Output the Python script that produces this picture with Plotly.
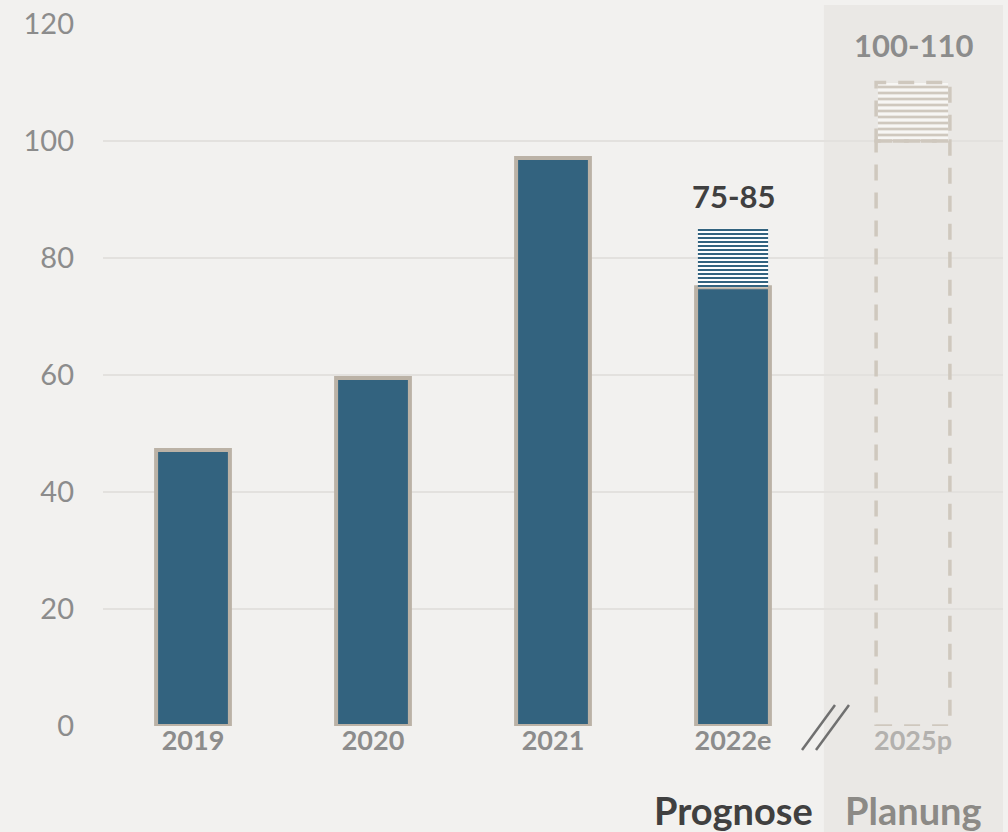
import plotly.graph_objects as go

# ---- data ----
categories = ["2019", "2020", "2021", "2022e", "2025p"]
actual_values = [47.2, 59.5, 97.1, 75, None]
forecast_low = 75
forecast_high = 85
plan_low = 100
plan_high = 110
y_ticks = [0, 20, 40, 60, 80, 100, 120]
section_labels = ["Prognose", "Planung"]

BG = "#f2f1ef"
SHADE = "#eae8e5"
BAR = "#33637f"
BORDER = "#bbb2a6"
PLAN = "#cfc8be"
FONT = "Lato"
BW = 0.41

n = len(categories)
i22 = categories.index("2022e")
i25 = categories.index("2025p")

fig = go.Figure()

fig.add_trace(go.Bar(
    x=categories, y=actual_values, width=BW,
    marker=dict(color=BAR, line=dict(color=BORDER, width=4)),
    hoverinfo="skip", showlegend=False, cliponaxis=False,
))
fig.add_trace(go.Bar(
    x=[categories[i22]], y=[forecast_high - forecast_low], base=[forecast_low], width=BW - 0.02,
    marker=dict(color=BAR, line=dict(width=0),
                pattern=dict(shape="-", size=4, solidity=0.5, fgcolor=BAR, bgcolor="white",
                             fillmode="replace")),
    hoverinfo="skip", showlegend=False,
))
fig.add_trace(go.Bar(
    x=[categories[i25]], y=[plan_high - plan_low], base=[plan_low], width=BW - 0.02,
    marker=dict(color=PLAN, line=dict(width=0),
                pattern=dict(shape="-", size=6, solidity=0.45, fgcolor=PLAN, bgcolor="#f7f6f4",
                             fillmode="replace")),
    hoverinfo="skip", showlegend=False,
))

shapes = []
# shaded planning region
shapes.append(dict(type="rect", xref="paper", yref="paper",
                   x0=i25 / n + 0.001, x1=(i25 + 1) / n, y0=-0.16, y1=1.027,
                   fillcolor=SHADE, line=dict(width=0), layer="below"))
# dashed outlines for the plan bar
for y0, y1 in [(0, plan_low), (plan_low, plan_high)]:
    shapes.append(dict(type="rect", xref="x", yref="y",
                       x0=i25 - BW / 2, x1=i25 + BW / 2, y0=y0, y1=y1,
                       line=dict(color=PLAN, width=3.5, dash="16px,12px"),
                       fillcolor="rgba(0,0,0,0)", layer="above"))
# axis break marks
for dx in [0, 14]:
    x0p = (802 + dx - 103) / 900
    x1p = (835 + dx - 103) / 900
    shapes.append(dict(type="line", xref="paper", yref="paper",
                       x0=x0p, x1=x1p, y0=(726 - 750) / 702, y1=(726 - 705) / 702,
                       line=dict(color="#707070", width=2.5)))

ticktext = []
for c in categories:
    col = "#b3b1ae" if c == "2025p" else "#8c8c8c"
    ticktext.append(f"<span style='color:{col}'><b>{c}</b></span>")

annotations = [
    dict(x=categories[i22], y=forecast_high, xref="x", yref="y",
         text=f"<b>{forecast_low}-{forecast_high}</b>", showarrow=False,
         yanchor="bottom", yshift=12, font=dict(family=FONT, size=31, color="#404040")),
    dict(x=categories[i25], y=plan_high, xref="x", yref="y",
         text=f"<b>{plan_low}-{plan_high}</b>", showarrow=False,
         yanchor="bottom", yshift=17, font=dict(family=FONT, size=31, color="#8c8c8c")),
    dict(x=categories[i22], y=-0.12, xref="x", yref="paper",
         text=f"<b>{section_labels[0]}</b>", showarrow=False, yanchor="middle",
         font=dict(family=FONT, size=38, color="#404040")),
    dict(x=categories[i25], y=-0.12, xref="x", yref="paper",
         text=f"<b>{section_labels[1]}</b>", showarrow=False, yanchor="middle",
         font=dict(family=FONT, size=38, color="#8c8a86")),
]

fig.update_layout(
    width=1008, height=832,
    margin=dict(l=103, r=5, t=24, b=106),
    paper_bgcolor=BG, plot_bgcolor="rgba(0,0,0,0)",
    barmode="overlay",
    shapes=shapes, annotations=annotations,
    font=dict(family=FONT),
    xaxis=dict(type="category", range=[-0.5, n - 0.5], tickvals=categories, ticktext=ticktext,
               showgrid=False, zeroline=False, showline=False, ticks="",
               tickfont=dict(family=FONT, size=27, color="#8c8c8c"), ticklabelstandoff=-4),
    yaxis=dict(range=[0, 120], tickvals=y_ticks, showgrid=True, gridcolor="#e3e1de", gridwidth=2,
               zeroline=False, showline=False, ticks="",
               tickfont=dict(family=FONT, size=29, color="#8c8c8c"), ticklabelstandoff=28),
)

fig.write_html("out.html", config={"displayModeBar": False},
               post_script="document.body.style.margin='0px';document.body.style.overflow='hidden';")
